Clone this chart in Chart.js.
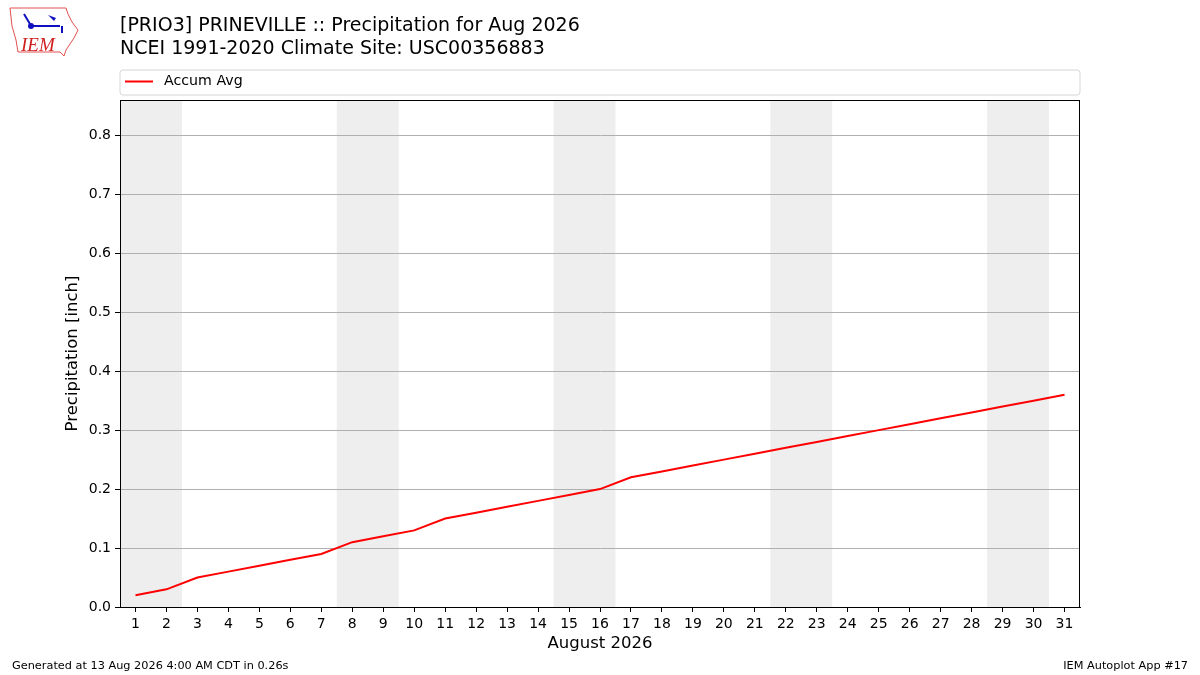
<!DOCTYPE html>
<html>
<head>
<meta charset="utf-8">
<title>PRIO3 Precipitation Aug 2026</title>
<script src="https://cdn.jsdelivr.net/npm/chart.js@4.4.1/dist/chart.umd.min.js"></script>
<style>
  html, body { margin: 0; padding: 0; background: #fff; }
  #wrap { position: relative; width: 1200px; height: 675px; overflow: hidden; }
  canvas { position: absolute; left: 0; top: 0; }
</style>
</head>
<body>
<div id="wrap">
  <canvas id="chart" width="1200" height="675"></canvas>
</div>
<script>
// Days of August 2026
const days = [1, 2, 3, 4, 5, 6, 7, 8, 9, 10, 11, 12, 13, 14, 15, 16,
              17, 18, 19, 20, 21, 22, 23, 24, 25, 26, 27, 28, 29, 30, 31];

// Accumulated average precipitation [inch]
const accumAvg = [0.02, 0.03, 0.05, 0.06, 0.07, 0.08, 0.09, 0.11, 0.12, 0.13, 0.15,
                  0.16, 0.17, 0.18, 0.19, 0.20, 0.22, 0.23, 0.24, 0.25, 0.26, 0.27,
                  0.28, 0.29, 0.30, 0.31, 0.32, 0.33, 0.34, 0.35, 0.36];

// Saturdays (weekend shading covers Sat + Sun)
const weekendStarts = [1, 8, 15, 22, 29];

// Y tick labels
const yTicks = [0.0, 0.1, 0.2, 0.3, 0.4, 0.5, 0.6, 0.7, 0.8];

const titleLines = [
    '[PRIO3] PRINEVILLE :: Precipitation for Aug 2026',
    'NCEI 1991-2020 Climate Site: USC00356883'
];
const xTitle = 'August 2026';
const yTitle = 'Precipitation [inch]';
const footerLeft = 'Generated at 13 Aug 2026 4:00 AM CDT in 0.26s';
const footerRight = 'IEM Autoplot App #17';

const FONT = '"DejaVu Sans", Verdana, sans-serif';

// Plugin for weekend bands, frame, titles, legend, footer, logo
const decorPlugin = {
    id: 'decor',
    beforeDraw(chart) {
        const ctx = chart.ctx;
        const area = chart.chartArea;
        const x = chart.scales.x;
        ctx.save();
        ctx.fillStyle = '#eeeeee';
        weekendStarts.forEach(function(d) {
            const x0 = x.getPixelForValue(d - 0.5);
            const x1 = x.getPixelForValue(d + 1.5);
            ctx.fillRect(x0, area.top, x1 - x0, area.bottom - area.top);
        });
        ctx.restore();
    },
    afterDraw(chart) {
        const ctx = chart.ctx;
        const area = chart.chartArea;
        ctx.save();

        // plot frame
        ctx.strokeStyle = '#000';
        ctx.lineWidth = 1;
        ctx.strokeRect(Math.round(area.left) + 0.5, Math.round(area.top) + 0.5,
                       Math.round(area.right - area.left) - 1, Math.round(area.bottom - area.top));

        // titles
        ctx.fillStyle = '#000';
        ctx.font = '19px ' + FONT;
        ctx.textBaseline = 'alphabetic';
        ctx.textAlign = 'left';
        ctx.fillText(titleLines[0], 120, 31);
        ctx.fillText(titleLines[1], 120, 54);

        // axis titles
        ctx.font = '16.5px ' + FONT;
        ctx.textAlign = 'center';
        ctx.textBaseline = 'middle';
        ctx.fillText(xTitle, (area.left + area.right) / 2, 644);
        ctx.save();
        ctx.translate(73, (area.top + area.bottom) / 2);
        ctx.rotate(-Math.PI / 2);
        ctx.fillText(yTitle, 0, 0);
        ctx.restore();

        // legend box
        const lx = 120, ly = 70, lw = 960, lh = 25, r = 3;
        ctx.beginPath();
        ctx.moveTo(lx + r, ly);
        ctx.lineTo(lx + lw - r, ly);
        ctx.quadraticCurveTo(lx + lw, ly, lx + lw, ly + r);
        ctx.lineTo(lx + lw, ly + lh - r);
        ctx.quadraticCurveTo(lx + lw, ly + lh, lx + lw - r, ly + lh);
        ctx.lineTo(lx + r, ly + lh);
        ctx.quadraticCurveTo(lx, ly + lh, lx, ly + lh - r);
        ctx.lineTo(lx, ly + r);
        ctx.quadraticCurveTo(lx, ly, lx + r, ly);
        ctx.closePath();
        ctx.fillStyle = 'rgba(255,255,255,0.8)';
        ctx.fill();
        ctx.strokeStyle = '#d5d5d5';
        ctx.lineWidth = 1;
        ctx.stroke();
        const ds = chart.data.datasets[0];
        ctx.strokeStyle = ds.borderColor;
        ctx.lineWidth = 2;
        ctx.beginPath();
        ctx.moveTo(125, 81.5);
        ctx.lineTo(153, 81.5);
        ctx.stroke();
        ctx.fillStyle = '#000';
        ctx.font = '14.2px ' + FONT;
        ctx.textAlign = 'left';
        ctx.textBaseline = 'middle';
        ctx.fillText(ds.label, 164, 81);

        // footer
        ctx.font = '11.3px ' + FONT;
        ctx.textBaseline = 'alphabetic';
        ctx.fillText(footerLeft, 12, 669);
        ctx.textAlign = 'right';
        ctx.fillText(footerRight, 1188, 669);

        // IEM logo (rough Iowa outline)
        ctx.strokeStyle = '#e05050';
        ctx.lineWidth = 1;
        ctx.beginPath();
        ctx.moveTo(10, 8);
        ctx.lineTo(66, 8);
        ctx.lineTo(68, 14);
        ctx.lineTo(72, 22);
        ctx.lineTo(78, 30);
        ctx.lineTo(74, 38);
        ctx.lineTo(70, 44);
        ctx.lineTo(66, 50);
        ctx.lineTo(64, 56);
        ctx.lineTo(60, 52);
        ctx.lineTo(18, 52);
        ctx.lineTo(16, 40);
        ctx.lineTo(12, 26);
        ctx.closePath();
        ctx.stroke();
        ctx.strokeStyle = '#1010c0';
        ctx.lineWidth = 2;
        ctx.beginPath();
        ctx.moveTo(30, 26);
        ctx.lineTo(60, 26);
        ctx.moveTo(62, 26);
        ctx.lineTo(62, 33);
        ctx.moveTo(24, 14);
        ctx.lineTo(30, 24);
        ctx.stroke();
        ctx.fillStyle = '#1010c0';
        ctx.beginPath();
        ctx.arc(31, 26, 3, 0, Math.PI * 2);
        ctx.fill();
        ctx.beginPath();
        ctx.moveTo(48, 15);
        ctx.lineTo(56, 18);
        ctx.lineTo(54, 21);
        ctx.closePath();
        ctx.fill();
        ctx.fillStyle = '#d02020';
        ctx.font = 'italic 19px "Liberation Serif", serif';
        ctx.textAlign = 'left';
        ctx.fillText('IEM', 21, 51);

        ctx.restore();
    }
};

function initChart() {
    const ctx = document.getElementById('chart');
    window.precipChart = new Chart(ctx, {
        type: 'line',
        data: {
            datasets: [{
                label: 'Accum Avg',
                data: days.map(function(d, i) { return { x: d, y: accumAvg[i] }; }),
                borderColor: '#ff0000',
                backgroundColor: '#ff0000',
                borderWidth: 2,
                pointRadius: 0,
                tension: 0,
                fill: false
            }]
        },
        options: {
            responsive: false,
            animation: false,
            devicePixelRatio: 1,
            layout: { padding: { top: 100, right: 120, left: 0, bottom: 0 } },
            plugins: {
                legend: { display: false },
                tooltip: { enabled: false }
            },
            scales: {
                x: {
                    type: 'linear',
                    min: 0.5,
                    max: 31.5,
                    afterBuildTicks: function(scale) {
                        scale.ticks = days.map(function(d) { return { value: d }; });
                    },
                    afterFit: function(scale) { scale.height = 68; },
                    grid: {
                        drawOnChartArea: false,
                        drawTicks: true,
                        tickLength: 5,
                        tickColor: '#000'
                    },
                    border: { display: true, color: '#000' },
                    ticks: {
                        color: '#000',
                        font: { family: FONT, size: 14 },
                        padding: 4,
                        maxRotation: 0,
                        autoSkip: false
                    }
                },
                y: {
                    type: 'linear',
                    min: 0,
                    max: 0.86,
                    afterBuildTicks: function(scale) {
                        scale.ticks = yTicks.map(function(v) { return { value: v }; });
                    },
                    afterFit: function(scale) { scale.width = 120; },
                    grid: {
                        color: '#b0b0b0',
                        lineWidth: 1,
                        drawTicks: true,
                        tickLength: 5,
                        tickColor: '#000'
                    },
                    border: { display: true, color: '#000' },
                    ticks: {
                        color: '#000',
                        font: { family: FONT, size: 14 },
                        padding: 4,
                        callback: function(v) { return Number(v).toFixed(1); }
                    }
                }
            }
        },
        plugins: [decorPlugin]
    });
}

document.addEventListener('DOMContentLoaded', initChart);
</script>
</body>
</html>
